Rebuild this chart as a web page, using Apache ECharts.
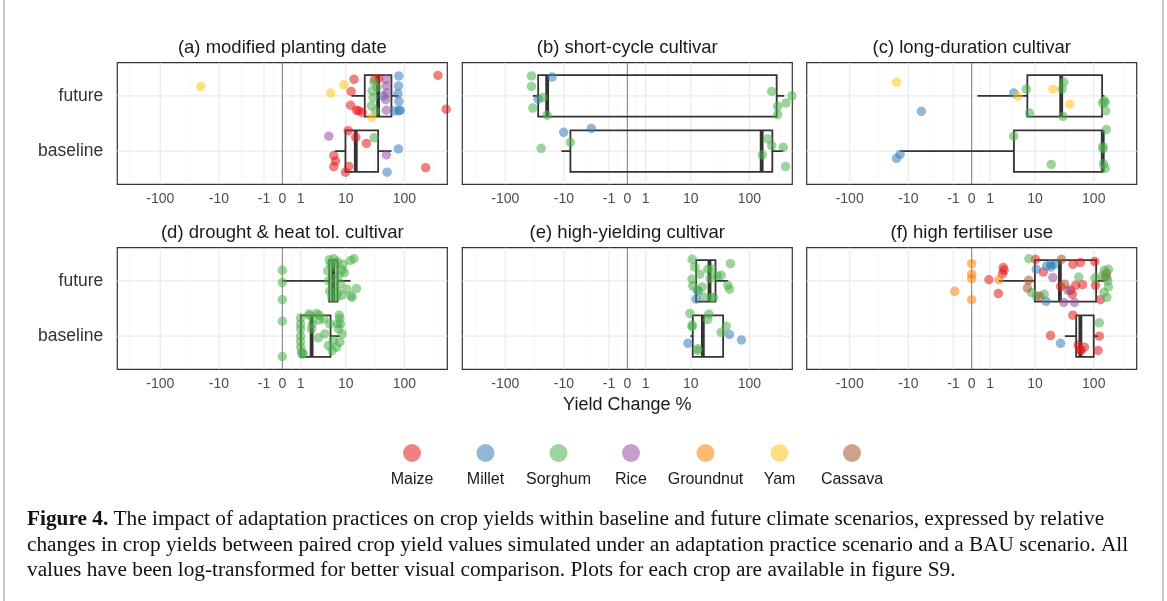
<!DOCTYPE html>
<html><head><meta charset="utf-8">
<script src="https://cdn.jsdelivr.net/npm/echarts@6/dist/echarts.min.js"></script>
<style>html,body{margin:0;padding:0;background:#fff}#c{width:1167px;height:601px}</style>
</head><body><div id="c"></div>
<script>
// ---------------- DATA ----------------
const crops = ['Maize','Millet','Sorghum','Rice','Groundnut','Yam','Cassava'];
const scenarios = ['baseline','future'];
const panelTitles = ['(a) modified planting date','(b) short-cycle cultivar','(c) long-duration cultivar',
  '(d) drought & heat tol. cultivar','(e) high-yielding cultivar','(f) high fertiliser use'];
const xTickLabels = [-100,-10,-1,0,1,10,100];
const axisTitle = 'Yield Change %';

// points: [crop, yield change %, vertical jitter]
const ptsA_fut = [['Yam',-20.8,0.17],['Maize',360,0.37],['Maize',490,-0.24],['Yam',5.2,0.05],['Yam',9.3,0.2],['Maize',14.1,0.3],['Maize',12.5,0.08],['Maize',12.2,-0.17],['Maize',15.5,-0.26],['Maize',17,-0.27],['Maize',19.5,-0.3],['Maize',37.4,0.31],['Maize',32,0.3],['Yam',28.5,-0.39],['Sorghum',31,0.25],['Sorghum',29,0.09],['Sorghum',30,-0.03],['Sorghum',28,-0.18],['Sorghum',33,-0.28],['Sorghum',35,0.15],['Rice',50,0.3],['Rice',50,0.18],['Rice',51,0.05],['Rice',49,-0.07],['Rice',50,-0.26],['Millet',81,0.36],['Millet',80,0.18],['Millet',78,0.04],['Millet',81,-0.1],['Millet',81,-0.27],['Millet',45,0.0],['Millet',69,-0.27],['Millet',86,-0.26]];
const ptsA_base = [['Rice',4.8,0.27],['Maize',11.1,0.37],['Maize',15.1,0.25],['Sorghum',31.2,0.24],['Maize',23.1,0.14],['Millet',79.7,0.04],['Rice',50.3,-0.07],['Maize',6.0,-0.08],['Maize',6.5,-0.18],['Maize',6.0,-0.28],['Maize',11.4,-0.28],['Maize',9.9,-0.38],['Maize',225,-0.3],['Millet',51.6,-0.38]];
const ptsB_fut = [['Sorghum',-36.5,0.36],['Sorghum',-36.5,0.17],['Sorghum',-34.6,-0.22],['Millet',-16.2,0.34],['Millet',-28.1,-0.06],['Sorghum',-23.4,-0.03],['Sorghum',-19.7,-0.35],['Sorghum',234,0.08],['Sorghum',294,-0.19],['Sorghum',294,-0.34],['Sorghum',403,-0.13],['Sorghum',505,0.0]];
const ptsB_base = [['Millet',-10.1,0.34],['Millet',-2.9,0.41],['Sorghum',-7.6,0.16],['Sorghum',-25,0.05],['Sorghum',201,0.22],['Sorghum',234,0.1],['Sorghum',364,0.07],['Sorghum',164,-0.07],['Sorghum',397,-0.28]];
const ptsC_fut = [['Yam',-16.2,0.25],['Millet',-5.7,-0.28],['Millet',3.9,0.05],['Yam',4.75,-0.01],['Sorghum',6.9,0.12],['Sorghum',7.9,-0.31],['Yam',20.5,0.12],['Sorghum',29.6,0.12],['Sorghum',31.6,0.25],['Sorghum',30.6,-0.37],['Yam',39.9,-0.15],['Sorghum',150,-0.09],['Sorghum',155,-0.12],['Sorghum',158,-0.27],['Sorghum',140,-0.13]];
const ptsC_base = [['Sorghum',162,0.39],['Sorghum',3.9,0.27],['Sorghum',141,0.08],['Sorghum',143,0.04],['Sorghum',19.2,-0.24],['Sorghum',145,-0.23],['Sorghum',155,-0.31],['Millet',-16.2,-0.13],['Millet',-14,-0.06]];
const ptsD_fut = [['Sorghum',0,0.19],['Sorghum',0,-0.03],['Sorghum',0,-0.34],['Sorghum',6.0,0.4],['Sorghum',7.0,0.35],['Sorghum',9.0,0.3],['Sorghum',12.2,0.37],['Sorghum',14.0,0.4],['Sorghum',15.5,-0.14],['Sorghum',13.0,-0.3],['Sorghum',12.5,-0.27],['Sorghum',8.6,-0.26],['Sorghum',4.8,0.0],['Sorghum',4.6,0.18],['Sorghum',5.0,-0.19],['Sorghum',5.5,-0.3],['Sorghum',6.8,-0.3],['Sorghum',5.2,0.3],['Sorghum',6.5,0.25],['Sorghum',7.5,0.1],['Sorghum',8.0,-0.05],['Sorghum',5.8,-0.1],['Sorghum',7.2,-0.2],['Sorghum',6.2,0.05],['Sorghum',4.9,0.38],['Sorghum',8.5,0.2],['Sorghum',10.5,-0.15],['Sorghum',9.5,0.15]];
const ptsD_base = [['Sorghum',0,0.27],['Sorghum',0,-0.37],['Sorghum',1.0,0.33],['Sorghum',1.0,0.22],['Sorghum',1.0,0.13],['Sorghum',1.0,0.0],['Sorghum',1.0,-0.1],['Sorghum',1.0,-0.2],['Sorghum',1.1,-0.29],['Sorghum',1.2,-0.32],['Sorghum',1.74,0.4],['Sorghum',2.66,0.41],['Sorghum',3.0,0.38],['Sorghum',3.82,0.31],['Sorghum',5.04,0.22],['Sorghum',7.6,0.38],['Sorghum',7.8,0.32],['Sorghum',8.0,0.22],['Sorghum',8.6,0.04],['Sorghum',7.8,-0.11],['Sorghum',6.8,-0.2],['Sorghum',5.6,-0.26],['Sorghum',2.9,-0.03],['Sorghum',3.0,0.29],['Sorghum',2.03,0.13],['Sorghum',2.1,0.22],['Sorghum',7.1,0.22],['Sorghum',7.4,0.13],['Sorghum',1.85,0.37],['Sorghum',4.0,0.04],['Sorghum',4.7,-0.17],['Sorghum',5.9,-0.08],['Sorghum',1.1,-0.32]];
const ptsE_fut = [['Sorghum',10.6,0.39],['Sorghum',11.9,0.25],['Sorghum',14.5,0.12],['Sorghum',10.6,0.03],['Sorghum',10.9,-0.09],['Sorghum',13.0,-0.17],['Sorghum',20,0.21],['Sorghum',24,0.21],['Sorghum',22,0.04],['Sorghum',28.9,0.09],['Sorghum',33.8,0.1],['Sorghum',48.4,0.31],['Sorghum',43.7,-0.08],['Sorghum',46.6,-0.15],['Sorghum',16,-0.11],['Sorghum',17,-0.29],['Sorghum',23,-0.3],['Sorghum',25,-0.3],['Millet',13.6,-0.18],['Millet',12.5,-0.33]];
const ptsE_base = [['Sorghum',9.65,0.41],['Sorghum',20.8,0.4],['Sorghum',19.8,0.3],['Sorghum',10.7,0.2],['Sorghum',10.5,0.17],['Sorghum',41,0.18],['Sorghum',33.8,0.07],['Sorghum',13.4,-0.23],['Sorghum',13.2,-0.26],['Millet',46.6,0.03],['Millet',73.9,-0.07],['Millet',8.9,-0.13]];
const ptsF_fut = [['Groundnut',0,0.31],['Groundnut',0,0.12],['Groundnut',0,0.04],['Groundnut',0,-0.34],['Groundnut',-0.9,-0.19],['Groundnut',1.8,0.02],['Maize',0.92,0.02],['Maize',1.74,-0.23],['Maize',2.2,0.13],['Maize',2.3,0.24],['Maize',2.4,0.19],['Sorghum',7.7,0.4],['Cassava',7.6,0.01],['Cassava',7.2,-0.13],['Sorghum',8.6,-0.21],['Sorghum',10.5,-0.27],['Cassava',12,-0.28],['Sorghum',14.5,-0.24],['Millet',15.7,-0.37],['Millet',10.5,0.21],['Millet',16,0.27],['Millet',19,0.3],['Millet',22,0.3],['Millet',19,0.25],['Maize',10.2,0.39],['Maize',14,0.16],['Rice',20.5,0.06],['Rice',31.6,-0.39],['Rice',47.8,-0.39],['Rice',37,-0.17],['Cassava',28.8,0.39],['Cassava',32.5,-0.06],['Maize',45,0.3],['Maize',60,0.33],['Maize',50,-0.08],['Maize',65,-0.07],['Maize',44,-0.24],['Maize',41,-0.17],['Sorghum',56.5,0.07],['Maize',104,0.35],['Maize',107,-0.08],['Sorghum',105,0.05],['Sorghum',138,0.09],['Sorghum',150,0.19],['Sorghum',175,0.21],['Sorghum',165,0.07],['Sorghum',170,0.0],['Sorghum',175,-0.11],['Sorghum',148,-0.21],['Sorghum',165,-0.3],['Maize',129,-0.34],['Maize',155,0.07],['Maize',162,0.14],['Maize',28,-0.1]];
const ptsF_base = [['Maize',44.8,0.38],['Sorghum',124,0.24],['Maize',18.7,0.01],['Millet',27.8,-0.13],['Maize',124,0.0],['Maize',60,-0.25],['Maize',62,-0.26],['Maize',118,-0.26],['Maize',55,-0.16],['Maize',70,-0.2]];

// box statistics: [lower whisker, Q1, median, Q3, upper whisker] for [baseline, future]
const boxA = [[6.3,9.9,15.1,36.5,61],[12.7,21.6,36.5,61,78.8]];
const boxB = [[-11.1,-7.6,160,240,364],[-34.6,-28.1,-19.7,283,378]];
const boxC = [[-14,3.94,141,141,141],[0.24,7.2,28.5,137.7,150]];
const boxD = [[1.02,1.02,2.03,5.2,7.8],[0,4.9,5.86,7.07,12.2]];
const boxE = [[9.9,10.9,16.4,36.5,36.5],[12.5,12.5,21.4,27.1,44.3]];
const boxF = [[32.9,51,60,100,118],[1.8,9.9,27.1,109.6,156]];

const panelPoints = [[ptsA_base,ptsA_fut],[ptsB_base,ptsB_fut],[ptsC_base,ptsC_fut],[ptsD_base,ptsD_fut],[ptsE_base,ptsE_fut],[ptsF_base,ptsF_fut]];
const panelBoxes = [boxA,boxB,boxC,boxD,boxE,boxF];

// ---------------- STYLE / LAYOUT ----------------
const cropColors = {Maize:'#E41A1C',Millet:'#377EB8',Sorghum:'#4DAF4A',Rice:'#984EA3',Groundnut:'#FF7F00',Yam:'#FFC61A',Cassava:'#A65628'};
const FONT = '"Liberation Sans", Arial, sans-serif';
const T = v => Math.sign(v) * Math.log10(1 + Math.abs(v));   // signed log10(1+|x|)
const XMIN = -2.71, XMAX = 2.71, YMIN = 0.4, YMAX = 2.6;
const gridLeft = [117.3, 462.3, 806.7], gridTop = [62.7, 247.7], GW = 330, GH = 121.6;
const majorX = xTickLabels.filter(v => v !== 0).map(T);
const minorX = [-2.502,-1.523,-0.671,-0.1505,0.1505,0.671,1.523,2.502];

const grids = [], xAxes = [], yAxes = [], series = [], graphics = [];
for (let p = 0; p < 6; p++) {
  const col = p % 3, row = Math.floor(p / 3);
  grids.push({left: gridLeft[col], top: gridTop[row], width: GW, height: GH, show: true,
    borderColor: '#333', borderWidth: 1.2, backgroundColor: 'transparent'});
  xAxes.push({type: 'value', gridIndex: p, min: XMIN, max: XMAX,
    axisLine: {show: false}, axisTick: {show: false}, splitLine: {show: false},
    axisLabel: {customValues: xTickLabels.map(T), margin: 8, fontSize: 14, color: '#4d4d4d', fontFamily: FONT,
      formatter: val => { const i = xTickLabels.findIndex(t => Math.abs(T(t) - val) < 1e-6); return i >= 0 ? String(xTickLabels[i]) : ''; }}});
  yAxes.push({type: 'value', gridIndex: p, min: YMIN, max: YMAX,
    axisLine: {show: false}, axisTick: {show: false}, splitLine: {show: false},
    axisLabel: {show: col === 0, customValues: [1, 2], margin: 14, fontSize: 17.5, color: '#333', fontFamily: FONT,
      formatter: val => scenarios[Math.round(val) - 1] || ''}});
  // grid lines
  const gl = [];
  minorX.forEach(v => gl.push([v, 0]));
  majorX.forEach(v => gl.push([v, 1]));
  gl.push([1, 2], [2, 2]);
  gl.push([0, 3]);
  series.push({type: 'custom', xAxisIndex: p, yAxisIndex: p, silent: true, z: 1, data: gl,
    encode: {x: 0},
    renderItem: (params, api) => {
      const v = api.value(0), k = api.value(1);
      let a, b;
      if (k === 2) { a = api.coord([XMIN, v]); b = api.coord([XMAX, v]); }
      else { a = api.coord([v, YMIN]); b = api.coord([v, YMAX]); }
      const st = k === 0 ? {stroke: '#f2f2f2', lineWidth: 0.6} : k === 3 ? {stroke: '#7a7a7a', lineWidth: 1} : {stroke: '#ebebeb', lineWidth: 1.2};
      return {type: 'line', shape: {x1: a[0], y1: a[1], x2: b[0], y2: b[1]}, style: st};
    }});
  // boxes
  const bd = panelBoxes[p].map((b, s) => [s + 1].concat(b.map(T)));
  series.push({type: 'custom', xAxisIndex: p, yAxisIndex: p, silent: true, z: 3, data: bd,
    encode: {y: 0, x: [1, 2, 3, 4, 5]},
    renderItem: (params, api) => {
      const yc = api.value(0);
      const xs = [1, 2, 3, 4, 5].map(k => api.coord([api.value(k), yc])[0]);
      const ym = api.coord([0, yc])[1], yt = api.coord([0, yc + 0.375])[1], yb = api.coord([0, yc - 0.375])[1];
      const ls = {stroke: '#333', lineWidth: 1.8, fill: null};
      return {type: 'group', children: [
        {type: 'line', shape: {x1: xs[0], y1: ym, x2: xs[1], y2: ym}, style: ls},
        {type: 'line', shape: {x1: xs[3], y1: ym, x2: xs[4], y2: ym}, style: ls},
        {type: 'rect', shape: {x: xs[1], y: yt, width: xs[3] - xs[1], height: yb - yt}, style: {stroke: '#333', lineWidth: 1.8, fill: 'rgba(0,0,0,0)'}},
        {type: 'line', shape: {x1: xs[2], y1: yt, x2: xs[2], y2: yb}, style: {stroke: '#333', lineWidth: 3.8}}
      ]};
    }});
  // points
  crops.forEach(c => {
    const d = [];
    panelPoints[p].forEach((arr, s) => arr.forEach(pt => { if (pt[0] === c) d.push([T(pt[1]), s + 1 + pt[2]]); }));
    if (d.length) series.push({type: 'scatter', name: c, xAxisIndex: p, yAxisIndex: p, z: 4, data: d,
      symbolSize: 9.5, itemStyle: {color: cropColors[c], opacity: 0.55}, emphasis: {disabled: true}});
  });
  // strip title
  graphics.push({type: 'text', x: gridLeft[col] + GW / 2, y: gridTop[row] - 15,
    style: {text: panelTitles[p], font: '18.5px ' + FONT, fill: '#1a1a1a', textAlign: 'center', textVerticalAlign: 'middle'}});
}
// axis title
graphics.push({type: 'text', x: gridLeft[1] + GW / 2, y: 405,
  style: {text: axisTitle, font: '18px ' + FONT, fill: '#1a1a1a', textAlign: 'center', textVerticalAlign: 'middle'}});
// legend labels
const legendX = [412, 485.5, 558.5, 631, 705.5, 779.5, 852];
const legends = crops.map((c, i) => ({data: [c], left: legendX[i] - 9, top: 444, icon: 'circle', itemWidth: 18, itemHeight: 18,
  itemStyle: {opacity: 0.55}, formatter: () => '', textStyle: {fontSize: 1}, padding: 0}));
crops.forEach((c, i) => graphics.push({type: 'text', x: legendX[i], y: 480,
  style: {text: c, font: '16px ' + FONT, fill: '#1a1a1a', textAlign: 'center', textVerticalAlign: 'middle'}}));
// caption
const captionLines = [
  '{b|Figure 4.} The impact of adaptation practices on crop yields within baseline and future climate scenarios, expressed by relative',
  'changes in crop yields between paired crop yield values simulated under an adaptation practice scenario and a BAU scenario. All',
  'values have been log-transformed for better visual comparison. Plots for each crop are available in figure S9.'];
const capY = [519, 545, 570];
captionLines.forEach((t, i) => graphics.push({type: 'text', x: 27, y: capY[i],
  style: {text: t, fontFamily: '"Liberation Serif", "DejaVu Serif", serif', fontSize: 21.3, fill: '#111', textVerticalAlign: 'middle',
    rich: {b: {fontWeight: 'bold', fontFamily: '"Liberation Serif", serif', fontSize: 21.3, fill: '#111'}}}}));
// frame lines
graphics.push({type: 'rect', shape: {x: 3, y: 0, width: 2, height: 601}, style: {fill: '#c8c8c8'}});
graphics.push({type: 'rect', shape: {x: 1162, y: 0, width: 2, height: 601}, style: {fill: '#c8c8c8'}});

const chart = echarts.init(document.getElementById('c'), null, {renderer: 'canvas'});
chart.setOption({animation: false, backgroundColor: '#fff', textStyle: {fontFamily: FONT},
  grid: grids, xAxis: xAxes, yAxis: yAxes, series: series, legend: legends, graphic: graphics});
</script></body></html>
